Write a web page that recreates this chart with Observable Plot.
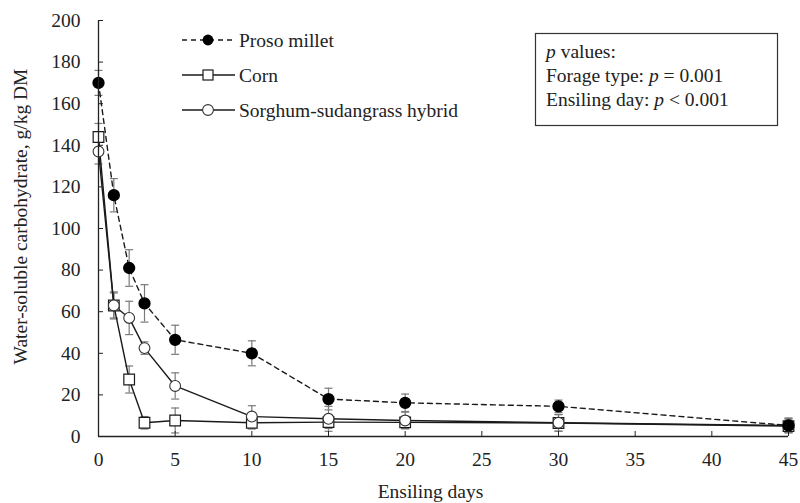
<!DOCTYPE html>
<html>
<head>
<meta charset="utf-8">
<script src="https://cdn.jsdelivr.net/npm/d3@7"></script>
<script src="https://cdn.jsdelivr.net/npm/@observablehq/plot@0.6"></script>
<style>
  html, body { margin: 0; padding: 0; background: #fff; }
  #wrap { position: relative; width: 800px; height: 503px; overflow: hidden; }
  #wrap svg { display: block; }
  #overlay { position: absolute; left: 0; top: 0; pointer-events: none; }
</style>
</head>
<body>
<div id="wrap"></div>
<script>
// ---- data ----
const days = [0, 1, 2, 3, 5, 10, 15, 20, 30, 45];
const seriesNames = ["Proso millet", "Corn", "Sorghum-sudangrass hybrid"];
const prosoMillet = [170, 116, 81, 64, 46.5, 40, 18, 16.2, 14.5, 5.3];
const prosoMilletErr = [6, 8, 8.8, 9, 7, 6, 5.2, 4.2, 3, 3.5];
const corn = [144, 63, 27.4, 6.6, 7.7, 6.6, 6.9, 6.8, 6.5, 5];
const cornErr = [6.5, 6, 6.5, 3, 6, 3, 3, 3, 4, 3];
const sorghum = [137, 63, 57, 42.5, 24.3, 9.6, 8.5, 7.7, 6.6, 5.3];
const sorghumErr = [6, 6.5, 8, 3, 6.3, 5.2, 6, 4, 4, 3.5];
const xTicks = [0, 5, 10, 15, 20, 25, 30, 35, 40, 45];
const yTicks = [0, 20, 40, 60, 80, 100, 120, 140, 160, 180, 200];
const xLabel = "Ensiling days";
const yLabel = "Water-soluble carbohydrate, g/kg DM";
const pTitle = "values:";
const pLines = [["Forage type: ", "p", " = 0.001"], ["Ensiling day: ", "p", " < 0.001"]];

// ---- build table ----
const seriesVals = [prosoMillet, corn, sorghum];
const seriesErrs = [prosoMilletErr, cornErr, sorghumErr];
const rows = [];
seriesNames.forEach((s, k) => days.forEach((d, i) => rows.push({
  series: s, day: d, v: seriesVals[k][i], lo: seriesVals[k][i] - seriesErrs[k][i], hi: seriesVals[k][i] + seriesErrs[k][i]
})));
const bySeries = s => rows.filter(r => r.series === s);

const FONT = "Liberation Serif, Times New Roman, serif";
const capSymbol = { draw(ctx, size) { const w = Math.sqrt(size / Math.PI); ctx.moveTo(-w, 0); ctx.lineTo(w, 0); } };
const errColor = "#7a7a7a";
const lineColor = "#1a1a1a";

const chart = Plot.plot({
  width: 800, height: 503,
  marginLeft: 98, marginRight: 12, marginTop: 20, marginBottom: 67,
  style: { fontFamily: FONT, fontSize: "19.5px", color: "#222", background: "#fff" },
  x: { domain: [0, 45] },
  y: { domain: [0, 200] },
  marks: [
    // error bars
    Plot.ruleX(rows, { x: "day", y1: "lo", y2: "hi", stroke: errColor, strokeWidth: 1.2 }),
    Plot.dot(rows, { x: "day", y: "hi", symbol: capSymbol, r: 4, stroke: errColor, strokeWidth: 1.2, fill: "none" }),
    Plot.dot(rows, { x: "day", y: "lo", symbol: capSymbol, r: 4, stroke: errColor, strokeWidth: 1.2, fill: "none" }),
    // lines
    Plot.line(bySeries(seriesNames[2]), { x: "day", y: "v", stroke: lineColor, strokeWidth: 1.4 }),
    Plot.line(bySeries(seriesNames[1]), { x: "day", y: "v", stroke: lineColor, strokeWidth: 1.4 }),
    Plot.line(bySeries(seriesNames[0]), { x: "day", y: "v", stroke: lineColor, strokeWidth: 1.4, strokeDasharray: "5,4" }),
    // markers
    Plot.dot(bySeries(seriesNames[1]), { x: "day", y: "v", symbol: "square", r: 6, fill: "white", stroke: lineColor, strokeWidth: 1.2 }),
    Plot.dot(bySeries(seriesNames[2]), { x: "day", y: "v", symbol: "circle", r: 5.4, fill: "white", stroke: "#333", strokeWidth: 1.1 }),
    Plot.dot(bySeries(seriesNames[0]), { x: "day", y: "v", symbol: "circle", r: 5.4, fill: "black", stroke: "black" }),
    // axes
    Plot.axisX({ ticks: xTicks, tickSize: -5, tickPadding: 21, label: null, stroke: "#222" }),
    Plot.axisY({ ticks: yTicks, tickSize: -5, tickPadding: 23, label: null, stroke: "#222" }),
    Plot.ruleX([0], { stroke: "#222", strokeWidth: 1.3 }),
    Plot.ruleY([0], { stroke: "#222", strokeWidth: 1.3 }),
    // x axis title
    Plot.text([xLabel], { frameAnchor: "bottom", dx: -13, dy: 61.5, lineAnchor: "bottom", fill: "#222" })
  ]
});
document.getElementById("wrap").appendChild(chart);

// ---- overlay: y title, legend & p-values box ----
const ov = d3.select("#wrap").append("svg").attr("id", "overlay")
  .attr("width", 800).attr("height", 503)
  .style("font-family", FONT).style("font-size", "19.5px");
ov.append("text").attr("transform", "translate(27,216.5) rotate(-90)")
  .attr("text-anchor", "middle").attr("fill", "#222").text(yLabel);
const legendY = [40, 75, 110];
seriesNames.forEach((s, k) => {
  const g = ov.append("g").attr("transform", `translate(0,${legendY[k]})`);
  g.append("line").attr("x1", 182).attr("x2", 235).attr("y1", 0).attr("y2", 0)
    .attr("stroke", lineColor).attr("stroke-width", 1.4)
    .attr("stroke-dasharray", k === 0 ? "5,4" : null);
  if (k === 0) g.append("circle").attr("cx", 208).attr("cy", 0).attr("r", 5.4).attr("fill", "black");
  if (k === 1) g.append("rect").attr("x", 203).attr("y", -5).attr("width", 10).attr("height", 10).attr("fill", "white").attr("stroke", lineColor).attr("stroke-width", 1.2);
  if (k === 2) g.append("circle").attr("cx", 208).attr("cy", 0).attr("r", 5.4).attr("fill", "white").attr("stroke", "#333").attr("stroke-width", 1.1);
  g.append("text").attr("x", 239).attr("y", 6.5).attr("fill", "#222").text(s);
});
ov.append("rect").attr("x", 535.5).attr("y", 33.5).attr("width", 242).attr("height", 92)
  .attr("fill", "white").attr("stroke", "#333").attr("stroke-width", 1.2);
const t0 = ov.append("text").attr("x", 546).attr("y", 57.5).attr("fill", "#222");
t0.append("tspan").attr("font-style", "italic").text("p");
t0.append("tspan").text(" " + pTitle);
pLines.forEach((parts, i) => {
  const t = ov.append("text").attr("x", 546).attr("y", 81.5 + 24 * i).attr("fill", "#222");
  t.append("tspan").text(parts[0]);
  t.append("tspan").attr("font-style", "italic").text(parts[1]);
  t.append("tspan").text(parts[2]);
});
</script>
</body>
</html>
